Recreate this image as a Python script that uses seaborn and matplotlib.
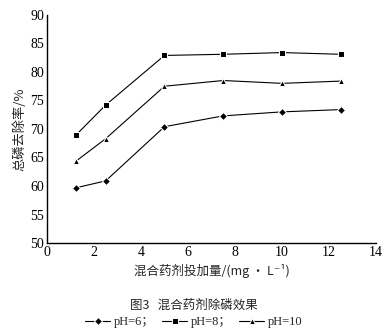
import matplotlib
matplotlib.use("Agg")
import matplotlib.pyplot as plt
import seaborn as sns
import pandas as pd

dose = [1.25, 2.5, 5, 7.5, 10, 12.5]
ph6 = [59.7, 60.9, 70.4, 72.3, 73.0, 73.4]
ph8 = [69.0, 74.2, 82.9, 83.1, 83.4, 83.1]
ph10 = [64.4, 68.3, 77.5, 78.5, 78.0, 78.4]
series_names = ["pH=6；", "pH=8；", "pH=10"]

df = pd.DataFrame({
    "dose": dose * 3,
    "rate": ph6 + ph8 + ph10,
    "series": [series_names[0]] * 6 + [series_names[1]] * 6 + [series_names[2]] * 6,
})

sns.set_theme(style="white")
plt.rcParams['font.family'] = ['Liberation Serif', 'DejaVu Serif', 'Noto Sans CJK SC']

fig = plt.figure(figsize=(3.88, 3.32), dpi=100)
ax = fig.add_axes([0.121, 0.268, 0.848, 0.687])

sns.lineplot(data=df, x="dose", y="rate", hue="series", style="series",
             hue_order=series_names, style_order=series_names,
             palette=["black"] * 3, markers=["D", "s", "^"], dashes=False,
             markersize=4, linewidth=0.8, ax=ax, legend=True)

ax.set_xlim(0, 14)
ax.set_ylim(50, 90)
ax.set_xticks(range(0, 15, 2))
ax.set_yticks(range(50, 91, 5))
for s in ["top", "right"]:
    ax.spines[s].set_visible(False)
for s in ["left", "bottom"]:
    ax.spines[s].set_color("black")
    ax.spines[s].set_linewidth(1.0)
ax.tick_params(direction="in", length=3, width=0.8, labelsize=10, colors="black", pad=2)

ax.set_xlabel("混合药剂投加量/(mg · L⁻¹)", fontsize=9, labelpad=4,
              family=['Noto Sans CJK SC', 'Liberation Serif', 'DejaVu Serif'])
ax.set_ylabel("总磷去除率/%", fontsize=9.5, labelpad=3,
              family=['Noto Sans CJK SC', 'Liberation Serif', 'DejaVu Serif'])

handles, labels = ax.get_legend_handles_labels()
ax.get_legend().remove()
fig.legend(handles, labels, loc="center", bbox_to_anchor=(0.5, 0.03), ncol=3,
           frameon=False, handlelength=2.0, handletextpad=0.3,
           columnspacing=0.6,
           prop={'family': ['Liberation Serif', 'Noto Sans CJK SC'], 'size': 9})

fig.text(0.5, 0.08, "图3   混合药剂除磷效果", ha="center", va="center", fontsize=9,
         family=['Noto Sans CJK SC', 'Liberation Serif'])

fig.savefig("out.png", dpi=100)
